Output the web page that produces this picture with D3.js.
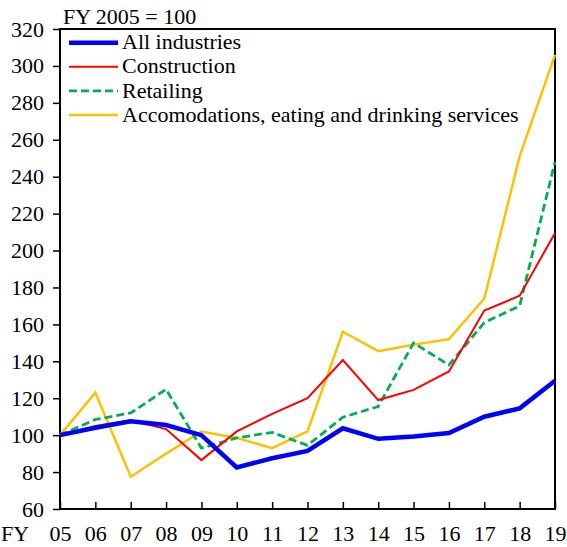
<!DOCTYPE html>
<html>
<head>
<meta charset="utf-8">
<script src="https://cdn.jsdelivr.net/npm/d3@7"></script>
<style>
  body { margin: 0; background: #fff; }
  svg text { font-family: "Liberation Serif", "Times New Roman", serif; fill: #000; }
</style>
</head>
<body>
<div id="chart"></div>
<script>
const years = ["05", "06", "07", "08", "09", "10", "11", "12", "13", "14", "15", "16", "17", "18", "19"];
const allIndustries = [100, 104, 107.5, 105.5, 100, 82.5, 87.5, 91.5, 103.7, 98, 99.3, 101.2, 110, 114.5, 129.5];
const construction = [100, 105, 108, 103.3, 86.5, 102, 111.5, 120, 140.7, 119, 124.5, 134.5, 167.5, 175.5, 209.5];
const retailing = [100, 108.5, 112, 124.8, 93, 98.5, 101.5, 94.5, 109.7, 115.5, 150, 138, 161, 170, 248];
const accomodations = [100, 123, 77.5, 90, 102, 98.5, 93, 102, 156, 145.5, 149, 152, 174, 251, 306];
const yTicks = [60, 80, 100, 120, 140, 160, 180, 200, 220, 240, 260, 280, 300, 320];

const series = [
  { name: "All industries", values: allIndustries, color: "#0000ff", width: 4.5, dash: null },
  { name: "Construction", values: construction, color: "#ff0000", width: 2, dash: null },
  { name: "Retailing", values: retailing, color: "#00b050", width: 2.8, dash: "8,4" },
  { name: "Accomodations, eating and drinking services", values: accomodations, color: "#ffc000", width: 2.5, dash: null }
];

const serif = "'Liberation Serif', 'Times New Roman', serif";

const margin = { top: 29, right: 12, bottom: 38, left: 60 },
      width = 567 - margin.left - margin.right,
      height = 547 - margin.top - margin.bottom;

const svg = d3.select("#chart")
    .append("svg")
    .attr("width", 567)
    .attr("height", 547)
    .append("g")
    .attr("transform", `translate(${margin.left},${margin.top})`);

const x = d3.scalePoint()
    .domain(years)
    .range([0, width]);

const y = d3.scaleLinear()
    .domain([60, 320])
    .range([height, 0]);

// frame
svg.append("rect")
    .attr("width", width)
    .attr("height", height)
    .attr("fill", "none")
    .attr("stroke", "#000")
    .attr("stroke-width", 2);

// y axis
const yAxis = svg.append("g")
    .call(d3.axisLeft(y).tickValues(yTicks).tickSize(7).tickPadding(9))
    .attr("font-family", serif)
    .attr("font-size", 22);
yAxis.select(".domain").remove();
yAxis.selectAll("line").attr("stroke-width", 1.5);
yAxis.selectAll("text").style("font-family", serif).style("font-size", "22px");

// x axis, ticks inside
const xAxis = svg.append("g")
    .attr("transform", `translate(0,${height})`)
    .call(d3.axisBottom(x).tickSize(-7).tickPadding(16.5))
    .attr("font-family", serif)
    .attr("font-size", 22);
xAxis.select(".domain").remove();
xAxis.selectAll("line").attr("stroke-width", 1.5);
xAxis.selectAll("text").style("font-family", serif).style("font-size", "22px");

svg.append("text")
    .attr("x", -margin.left + 1)
    .attr("y", height + 32)
    .style("font-size", "22px")
    .text("FY");

svg.append("text")
    .attr("x", 3)
    .attr("y", -5)
    .style("font-size", "22px")
    .text("FY 2005 = 100");

const line = d3.line()
    .x((d, i) => x(years[i]))
    .y(d => y(d));

svg.selectAll(".series")
    .data(series.slice().reverse())
    .join("path")
    .attr("class", "series")
    .attr("d", d => line(d.values))
    .attr("fill", "none")
    .attr("stroke", d => d.color)
    .attr("stroke-width", d => d.width)
    .attr("stroke-dasharray", d => d.dash)
    .attr("stroke-linejoin", "miter");

// legend
const legend = svg.append("g")
    .attr("transform", "translate(9,13.7)");

const item = legend.selectAll("g")
    .data(series)
    .join("g")
    .attr("transform", (d, i) => `translate(0,${i * 24.1})`);

item.append("line")
    .attr("x1", 0)
    .attr("x2", 49)
    .attr("stroke", d => d.color)
    .attr("stroke-width", d => d.width)
    .attr("stroke-dasharray", d => d.dash);

item.append("text")
    .attr("x", 53)
    .attr("dy", "0.3em")
    .style("font-size", "22px")
    .text(d => d.name);
</script>
</body>
</html>
